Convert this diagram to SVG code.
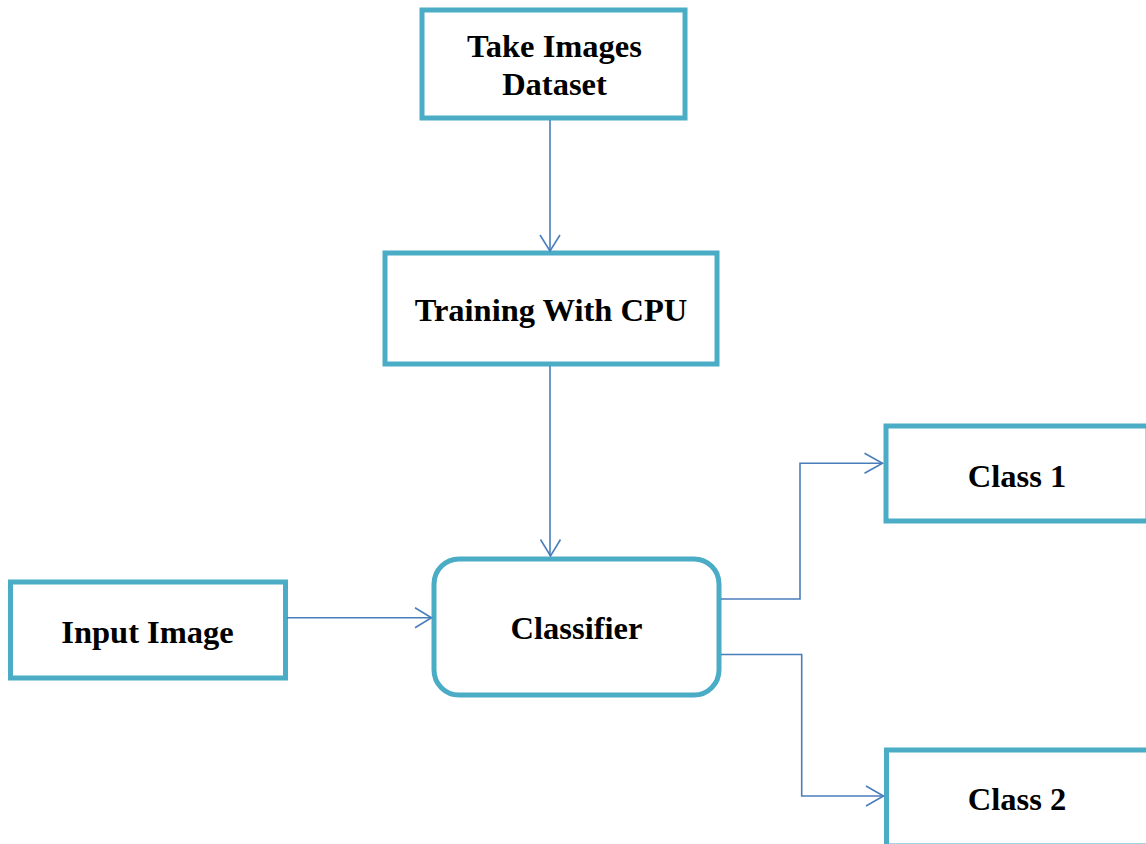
<svg xmlns="http://www.w3.org/2000/svg" width="1146" height="844" viewBox="0 0 1146 844">
  <style>
    .box { fill: #ffffff; stroke: #4bacc6; stroke-width: 5; }
    .label { font-family: "Liberation Serif", "Times New Roman", serif; font-weight: bold; font-size: 32.5px; fill: #000000; text-anchor: middle; }
    .link { fill: none; stroke: #4a7ebb; stroke-width: 1.6; }
    .head { fill: none; stroke: #4a7ebb; stroke-width: 1.6; stroke-linejoin: miter; }
  </style>
  <rect width="1146" height="844" fill="#ffffff"/>

  <g id="node-dataset">
    <rect class="box" x="422" y="10" width="263" height="108"/>
    <text class="label" x="554.5" y="57">Take Images</text>
    <text class="label" x="554.5" y="95">Dataset</text>
  </g>

  <g id="node-training">
    <rect class="box" x="385" y="253" width="332" height="111"/>
    <text class="label" x="551" y="321">Training With CPU</text>
  </g>

  <g id="node-classifier">
    <rect class="box" x="434" y="559" width="285" height="136" rx="25" ry="25"/>
    <text class="label" x="576.5" y="639">Classifier</text>
  </g>

  <g id="node-input">
    <rect class="box" x="10.5" y="582" width="275" height="96"/>
    <text class="label" x="147.5" y="643">Input Image</text>
  </g>

  <g id="node-class1">
    <rect class="box" x="886" y="426" width="262" height="95"/>
    <text class="label" x="1017" y="487">Class 1</text>
  </g>

  <g id="node-class2">
    <rect class="box" x="886.5" y="750" width="262" height="96"/>
    <text class="label" x="1017" y="810">Class 2</text>
  </g>

  <g id="connectors">
    <!-- dataset -> training -->
    <path class="link" d="M550 120 V251"/>
    <path class="head" d="M540 235 L550 251 L560 235"/>
    <!-- training -> classifier -->
    <path class="link" d="M550 366 V556"/>
    <path class="head" d="M540.5 539.5 L550.5 556 L560.5 539.5"/>
    <!-- input -> classifier -->
    <path class="link" d="M287 617.7 H431.5"/>
    <path class="head" d="M415 607.7 L431.5 617.7 L415 627.7"/>
    <!-- classifier -> class 1 -->
    <path class="link" d="M721 599 H800 V463.3 H882.5"/>
    <path class="head" d="M864.5 453.3 L882.5 463.3 L864.5 473.3"/>
    <!-- classifier -> class 2 -->
    <path class="link" d="M721 654.5 H801.7 V796 H883.5"/>
    <path class="head" d="M866 786 L883.5 796 L866 806"/>
  </g>
</svg>
